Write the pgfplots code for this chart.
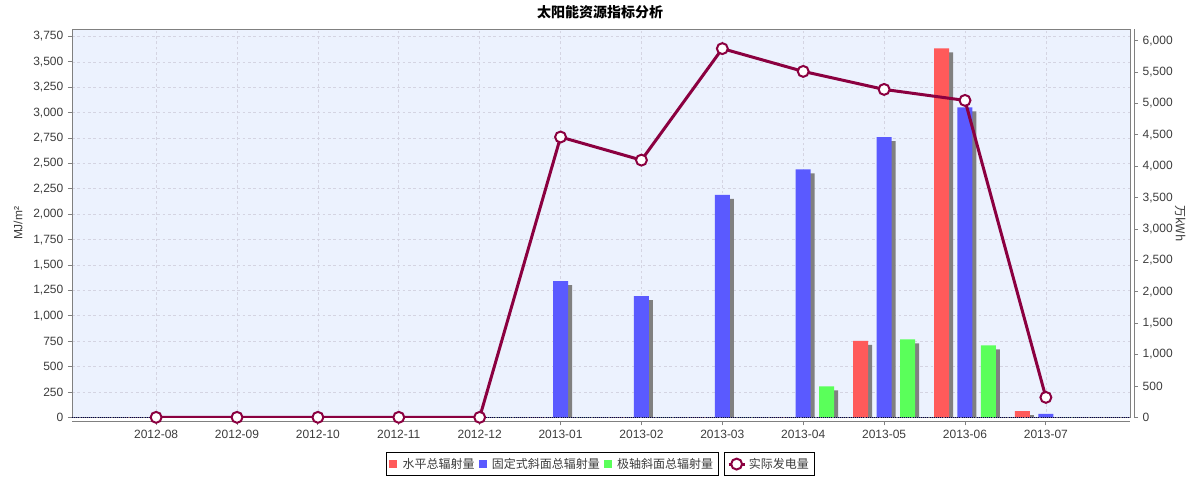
\documentclass[border=0pt]{standalone}
\usepackage{fontspec}
\setmainfont{Liberation Sans}
\newfontfamily\cjk{Noto Sans CJK SC}
\usepackage{pgfplots}
\pgfplotsset{compat=1.18}

\definecolor{redbar}{RGB}{255,90,90}
\definecolor{bluebar}{RGB}{90,90,255}
\definecolor{greenbar}{RGB}{90,255,90}
\definecolor{linec}{RGB}{139,0,64}
\definecolor{bgblue}{RGB}{236,242,254}
\definecolor{gridc}{RGB}{212,212,226}
\definecolor{axgray}{RGB}{128,128,128}
\definecolor{txt}{RGB}{60,60,60}

% x: 0 = 2012-08 ... 11 = 2013-07
\pgfplotstableread{
x horiz fixed polar
0  0    0    0
1  0    0    0
2  0    0    0
3  0    0    0
4  0    0    0
5  0    1342 0
6  0    1194 0
7  0    2189 0
8  0    2441 305
9  754  2759 768
10 3632 3051 709
11 62   35   0
}\radiation

\pgfplotstableread{
x power
0  0
1  0
2  0
3  0
4  0
5  4465
6  4097
7  5873
8  5510
9  5223
10 5048
11 318
}\power

\begin{document}
\begin{tikzpicture}
\path[use as bounding box] (0,0) rectangle (900pt,360pt);
\node[font=\cjk\bfseries\fontsize{10.5}{12}\selectfont] at (450pt,351pt) {太阳能资源指标分析};
\begin{axis}[
  name=main,
  at={(54pt,47pt)}, anchor=south west,
  scale only axis, width=793.5pt, height=291pt,
  xmin=-1.04, xmax=12.04, ymin=0, ymax=3820,
  axis background/.style={fill=bgblue},
  axis line style={axgray},
  xtick={0,...,11},
  xticklabels={2012-08,2012-09,2012-10,2012-11,2012-12,2013-01,2013-02,2013-03,2013-04,2013-05,2013-06,2013-07},
  ytick={0,250,...,3750},
  xtick pos=bottom, ytick pos=left,
  tick align=outside,
  major tick length=3pt,
  tick style={axgray, line width=0.6pt},
  xtick style={yshift=-3pt},
  xticklabel style={yshift=-3pt},
  ticklabel style={font=\fontsize{9}{10}\selectfont, text=txt},
  /pgf/number format/1000 sep={,},
  /pgf/number format/assume math mode=true,
  grid=major,
  major grid style={gridc, dash pattern=on 2pt off 2pt, line width=0.5pt},
  ylabel={MJ/m²},
  every axis y label/.style={at={(axis description cs:-0.051,0.5)}, rotate=90, anchor=center, font=\fontsize{9}{10}\selectfont, text=txt},
  ybar, bar width=11.25pt,
  legend style={at={(axis description cs:0.6115,-0.09)}, anchor=north east,
    draw=black, line width=0.6pt, font=\cjk\fontsize{9}{10}\selectfont, text=txt,
    legend columns=-1, inner sep=2pt,
    /tikz/every odd column/.append style={column sep=2pt},
    /tikz/every even column/.append style={column sep=1pt}},
  legend image code/.code={\fill[#1] (0pt,-3pt) rectangle (6pt,3pt);},
]
% shadows
\addplot[fill=gray, draw=none, bar shift=-14.6pt, yshift=-3pt, forget plot] table[x=x,y=horiz] {\radiation};
\addplot[fill=gray, draw=none, bar shift=3pt, yshift=-3pt, forget plot] table[x=x,y=fixed] {\radiation};
\addplot[fill=gray, draw=none, bar shift=20.6pt, yshift=-3pt, forget plot] table[x=x,y=polar] {\radiation};
% bars
\addplot[fill=redbar, draw=none, bar shift=-17.6pt] table[x=x,y=horiz] {\radiation};
\addlegendentry{水平总辐射量}
\addplot[fill=bluebar, draw=none, bar shift=0pt] table[x=x,y=fixed] {\radiation};
\addlegendentry{固定式斜面总辐射量}
\addplot[fill=greenbar, draw=none, bar shift=17.6pt] table[x=x,y=polar] {\radiation};
\addlegendentry{极轴斜面总辐射量}
\draw[blue!30!black, densely dotted, line width=0.6pt] (rel axis cs:0,0) -- (rel axis cs:1,0);
\end{axis}
\draw[axgray, line width=0.6pt] ([yshift=-3pt]main.south west) -- ([yshift=-3pt]main.south east);
\begin{axis}[
  at={(54pt,47pt)}, anchor=south west,
  scale only axis, width=793.5pt, height=291pt,
  xmin=-1.04, xmax=12.04, ymin=0, ymax=6180,
  axis x line=none, axis y line*=right,
  y axis line style={axgray, line width=0.6pt, xshift=3pt},
  ytick={0,500,...,6000},
  tick align=outside,
  major tick length=3pt,
  ytick style={axgray, line width=0.6pt, xshift=3pt},
  yticklabel style={xshift=3pt, font=\fontsize{9}{10}\selectfont, text=txt},
  /pgf/number format/1000 sep={,},
  /pgf/number format/assume math mode=true,
  ylabel={\cjk 万kWh},
  every axis y label/.style={at={(axis description cs:1.0473,0.5)}, rotate=-90, anchor=center, font=\fontsize{9}{10}\selectfont, text=txt},
  legend style={at={(axis description cs:0.6163,-0.09)}, anchor=north west,
    draw=black, line width=0.6pt, font=\cjk\fontsize{9}{10}\selectfont, text=txt, inner sep=2pt},
  legend image code/.code={\draw[mark repeat=2,mark phase=2,#1] plot coordinates {(0pt,0pt) (6pt,0pt) (12pt,0pt)};},
]
\addplot[linec, line width=2.25pt, mark=*, mark size=4.1pt, mark options={fill=white, draw=linec, line width=1.5pt}] table[x=x,y=power] {\power};
\addlegendentry{实际发电量}
\end{axis}
\end{tikzpicture}
\end{document}
